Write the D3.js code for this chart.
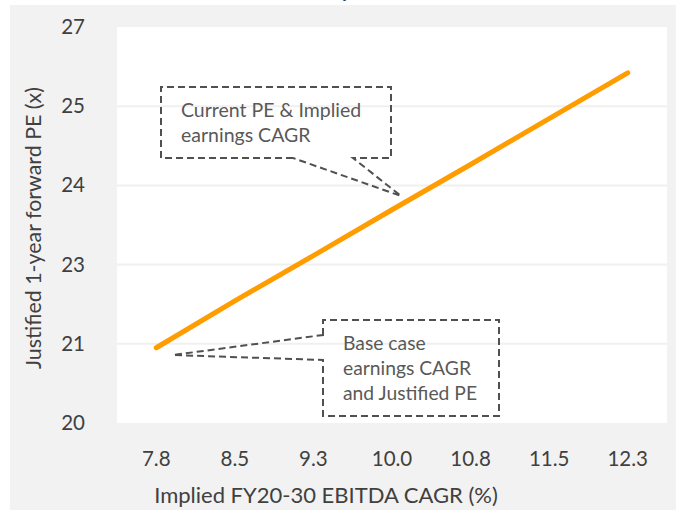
<!DOCTYPE html>
<html>
<head>
<meta charset="utf-8">
<script src="https://cdn.jsdelivr.net/npm/d3@7"></script>
<style>
  html, body { margin: 0; padding: 0; background: #ffffff; }
  svg { display: block; }
  text { font-family: Lato, "Open Sans", sans-serif; }
</style>
</head>
<body>
<svg id="chart" width="676" height="510"></svg>
<script>
// Implied EBITDA CAGR categories (%)
const categories = ["7.8", "8.5", "9.3", "10.0", "10.8", "11.5", "12.3"];
// Justified 1-year forward PE (x) at each CAGR
const peValues = [21.33, 22.16, 22.96, 23.77, 24.57, 25.38, 26.19];
// Y axis tick labels, evenly spaced from 20 to 27
const yTickLabels = ["20", "21", "23", "24", "25", "27"];

const yMin = 20, yMax = 27;
const yTickValues = yTickLabels.map((_, i) => yMin + i * (yMax - yMin) / (yTickLabels.length - 1));

const svg = d3.select("#chart");

// Chart background panel
svg.append("rect").attr("x", 10).attr("y", 5).attr("width", 666).attr("height", 505).attr("fill", "#f2f2f2");

// Title (runs off the top edge)
svg.append("text")
  .attr("x", 346).attr("y", -3)
  .attr("text-anchor", "middle")
  .attr("font-size", 20).attr("font-weight", "bold")
  .attr("fill", "#1f3c8c")
  .text("y");

const plot = { left: 117, right: 667, top: 27, bottom: 423 };

svg.append("rect")
  .attr("x", plot.left).attr("y", plot.top)
  .attr("width", plot.right - plot.left).attr("height", plot.bottom - plot.top)
  .attr("fill", "#ffffff");

const x = d3.scaleBand().domain(categories).range([plot.left, plot.right]);
const y = d3.scaleLinear().domain([yMin, yMax]).range([plot.bottom, plot.top]);

// Gridlines
svg.append("g")
  .selectAll("line")
  .data(yTickValues.slice(1, -1))
  .join("line")
  .attr("x1", plot.left).attr("x2", plot.right)
  .attr("y1", d => y(d)).attr("y2", d => y(d))
  .attr("stroke", "#f0f0f0").attr("stroke-width", 2);

// Y axis
const yAxis = d3.axisLeft(y)
  .tickValues(yTickValues)
  .tickFormat((d, i) => yTickLabels[i])
  .tickSize(0).tickPadding(0);
const gy = svg.append("g").attr("transform", `translate(${plot.left - 32},0)`).call(yAxis);
gy.select(".domain").remove();
gy.selectAll("text").attr("font-size", 20.5).attr("fill", "#404040").attr("font-family", "Lato, sans-serif");

// X axis
const xAxis = d3.axisBottom(x).tickSize(0).tickPadding(0);
const gx = svg.append("g").attr("transform", `translate(0,${plot.bottom + 28})`).call(xAxis);
gx.select(".domain").remove();
gx.selectAll("text").attr("font-size", 20.5).attr("fill", "#404040").attr("font-family", "Lato, sans-serif");

// Axis titles
svg.append("text")
  .attr("x", 326).attr("y", 503)
  .attr("text-anchor", "middle")
  .attr("font-size", 22).attr("fill", "#404040")
  .text("Implied FY20-30 EBITDA CAGR (%)");

svg.append("text")
  .attr("transform", "translate(41,228) rotate(-90)")
  .attr("text-anchor", "middle")
  .attr("font-size", 21.4).attr("fill", "#404040")
  .text("Justified 1-year forward PE (x)");

// PE line
const line = d3.line()
  .x((d, i) => x(categories[i]) + x.bandwidth() / 2)
  .y(d => y(d));

svg.append("path")
  .datum(peValues)
  .attr("d", line)
  .attr("fill", "none")
  .attr("stroke", "#ff9c00")
  .attr("stroke-width", 5)
  .attr("stroke-linecap", "round");

// Dashed callouts
const dash = { stroke: "#505050", "stroke-width": 2, "stroke-dasharray": "7,4", fill: "none" };
function styled(sel) {
  Object.entries(dash).forEach(([k, v]) => sel.attr(k, v));
  return sel;
}

// Callout pointing at the current PE on the line
const c1 = { x0: 161, y0: 87, x1: 391, y1: 158, a: 293, b: 353, tx: 401, ty: 196 };
styled(svg.append("path").attr("d",
  `M${c1.a},${c1.y1} L${c1.x0},${c1.y1} L${c1.x0},${c1.y0} L${c1.x1},${c1.y0} L${c1.x1},${c1.y1} L${c1.b},${c1.y1} L${c1.tx},${c1.ty} Z`));
svg.append("text").attr("x", 181).attr("y", 117).attr("font-size", 19.5).attr("fill", "#595959")
  .text("Current PE & Implied");
svg.append("text").attr("x", 181).attr("y", 142).attr("font-size", 19.5).attr("fill", "#595959")
  .text("earnings CAGR");

// Callout pointing at the base case
const c2 = { x0: 323, y0: 320, x1: 499, y1: 416, a: 335, b: 360, tx: 173, ty: 355 };
styled(svg.append("path").attr("d",
  `M${c2.x0},${c2.a} L${c2.x0},${c2.y0} L${c2.x1},${c2.y0} L${c2.x1},${c2.y1} L${c2.x0},${c2.y1} L${c2.x0},${c2.b} L${c2.tx},${c2.ty} Z`));
svg.append("text").attr("x", 343).attr("y", 350).attr("font-size", 19.3).attr("fill", "#595959").text("Base case");
svg.append("text").attr("x", 343).attr("y", 375).attr("font-size", 19.3).attr("fill", "#595959").text("earnings CAGR");
svg.append("text").attr("x", 343).attr("y", 400).attr("font-size", 19.3).attr("fill", "#595959").text("and Justified PE");
</script>
</body>
</html>
